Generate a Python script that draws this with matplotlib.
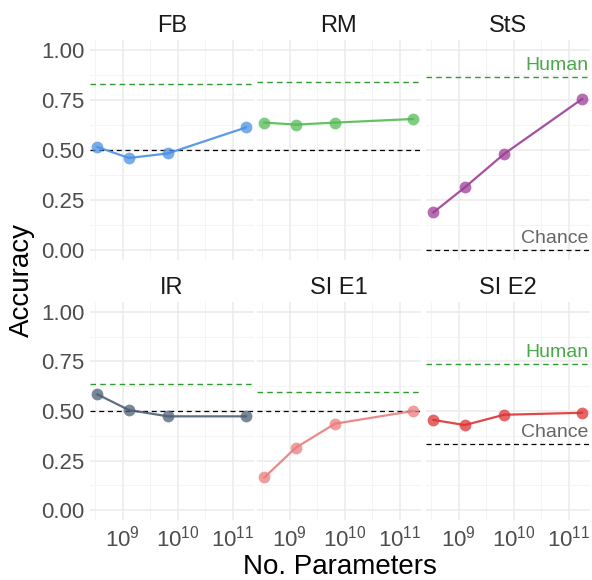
import numpy as np
import matplotlib
matplotlib.use('Agg')
import matplotlib.pyplot as plt
from matplotlib.ticker import FixedLocator, LogFormatterSciNotation, NullFormatter

plt.rcParams['font.family'] = ['Liberation Sans', 'DejaVu Sans']
plt.rcParams['mathtext.fontset'] = 'custom'
plt.rcParams['mathtext.rm'] = 'Liberation Sans'

# model sizes (ada, babbage, curie, davinci)
params = [3.5e8, 1.3e9, 6.7e9, 1.75e11]

tasks = ['FB', 'RM', 'StS', 'IR', 'SI E1', 'SI E2']
acc_fb = [0.515, 0.46, 0.483, 0.613]
acc_rm = [0.637, 0.627, 0.637, 0.655]
acc_sts = [0.188, 0.313, 0.48, 0.755]
acc_ir = [0.584, 0.505, 0.473, 0.473]
acc_sie1 = [0.165, 0.315, 0.436, 0.50]
acc_sie2 = [0.455, 0.429, 0.481, 0.491]
accs = [acc_fb, acc_rm, acc_sts, acc_ir, acc_sie1, acc_sie2]
human = [0.83, 0.842, 0.863, 0.635, 0.596, 0.736]
chance = [0.5, 0.5, 0.0, 0.5, 0.5, 0.333]
show_labels = [False, False, True, False, False, True]
colors = ['#4a90e2', '#55bb55', '#9c3d96', '#4d5f75', '#ea7c7c', '#dd3333']

W, H = 592, 580
fig = plt.figure(figsize=(W / 100, H / 100), dpi=100)

lefts = [90, 257, 426]
pw = 163.5
rows = [(40, 260), (302, 520)]

xlo = 10 ** (np.log10(params[0]) - 0.05 * (np.log10(params[-1]) - np.log10(params[0])))
xhi = 10 ** (np.log10(params[-1]) + 0.05 * (np.log10(params[-1]) - np.log10(params[0])))

for i, task in enumerate(tasks):
    r, c = divmod(i, 3)
    top, bot = rows[r]
    ax = fig.add_axes([lefts[c] / W, 1 - bot / H, pw / W, (bot - top) / H])
    ax.set_xscale('log')
    ax.set_xlim(xlo, xhi)
    ax.set_ylim(-0.05, 1.05)
    for s in ax.spines.values():
        s.set_visible(False)

    ax.xaxis.set_major_locator(FixedLocator([1e9, 1e10, 1e11]))
    ax.xaxis.set_minor_locator(FixedLocator([10 ** 8.5, 10 ** 9.5, 10 ** 10.5]))
    ax.xaxis.set_minor_formatter(NullFormatter())
    ax.set_yticks([0, 0.25, 0.5, 0.75, 1.0])
    ax.set_yticks([0.125, 0.375, 0.625, 0.875], minor=True)
    ax.grid(True, which='major', color='#ebebeb', lw=1.1, zorder=0)
    ax.grid(True, which='minor', color='#f2f2f2', lw=0.6, zorder=0)
    ax.tick_params(which='both', length=0, labelsize=16, labelcolor='#4d4d4d', pad=4)
    ax.set_axisbelow(True)

    if r == 1:
        ax.xaxis.set_major_formatter(LogFormatterSciNotation())
    else:
        ax.set_xticklabels([])
    if c == 0:
        ax.set_yticklabels(['0.00', '0.25', '0.50', '0.75', '1.00'])
    else:
        ax.set_yticklabels([])

    ax.axhline(human[i], color='#2f9a2f', lw=1.0, ls=(0, (4, 3)), zorder=2)
    ax.axhline(chance[i], color='black', lw=0.9, ls=(0, (4, 3)), zorder=2)
    ax.plot(params, accs[i], color=colors[i], lw=1.6, zorder=3, alpha=0.9)
    ax.plot(params, accs[i], 'o', color=colors[i], ms=8.5, alpha=0.75, mec='none', zorder=4)

    if show_labels[i]:
        ax.text(0.995, human[i] + 0.015, 'Human', transform=ax.get_yaxis_transform(),
                ha='right', va='bottom', fontsize=14, color='#4aa84a')
        ax.text(0.995, chance[i] + 0.015, 'Chance', transform=ax.get_yaxis_transform(),
                ha='right', va='bottom', fontsize=14, color='#666666')

    ax.set_title(task, fontsize=17, color='#1a1a1a', pad=6)

fig.text(340 / W, 1 - 567 / H, 'No. Parameters', ha='center', va='center', fontsize=20)
fig.text(22 / W, 1 - 280 / H, 'Accuracy', ha='center', va='center', rotation=90, fontsize=20)

fig.savefig('out.png', dpi=100, facecolor='white')
